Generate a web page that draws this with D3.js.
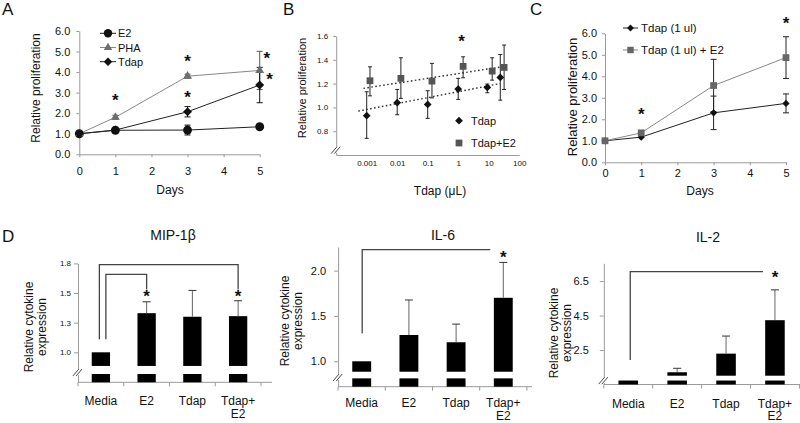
<!DOCTYPE html>
<html><head><meta charset="utf-8">
<script src="https://cdn.jsdelivr.net/npm/d3@7/dist/d3.min.js"></script>
<style>body{margin:0;background:#fff}svg{display:block}</style>
</head><body><svg id="c" width="800" height="423"></svg>
<script>
// ---------------- DATA ----------------
// Panel A
const daysA = [0, 1, 3, 5];
const e2A = [1.0, 1.17, 1.18, 1.34];
const e2AErr = [0, 0.04, 0.24, 0.1];
const phaA = [1.0, 1.8, 3.8, 4.08];
const phaAErr = [0, 0.1, 0.1, 0.93];
const tdapA = [1.0, 1.18, 2.07, 3.37];
const tdapAErr = [0, 0.04, 0.25, 0.86];
const ticksA = [0, 1, 2, 3, 4, 5, 6];
const dayTicks = [0, 1, 2, 3, 4, 5];
const starsA = [[1, 2.8], [3, 4.72], [3, 2.96], [5.2, 4.85], [5.27, 3.85]];
const seriesA = ["E2", "PHA", "Tdap"];

// Panel B
const doseTdap = [0.001, 0.01, 0.1, 1, 9, 24];
const tdapB = [0.93, 1.04, 1.025, 1.154, 1.168, 1.252];
const tdapBLo = [0.74, 0.938, 0.908, 1.067, 1.123, 1.061];
const tdapBHi = [1.131, 1.151, 1.14, 1.244, 1.196, 1.445];
const doseTdapE2 = [0.00128, 0.0132, 0.138, 1.45, 13, 32];
const tdapE2B = [1.224, 1.244, 1.221, 1.345, 1.305, 1.336];
const tdapE2BLo = [1.097, 1.076, 1.08, 1.249, 1.229, 1.151];
const tdapE2BHi = [1.341, 1.417, 1.37, 1.425, 1.417, 1.524];
const trendTdapB = [[0.00053, 0.969], [23.4, 1.20]];
const trendTdapE2B = [[0.00078, 1.16], [27, 1.341]];
const ticksBy = [0.8, 1.0, 1.2, 1.4, 1.6];
const ticksBx = [0.001, 0.01, 0.1, 1, 10, 100];
const starsB = [[1.3, 1.59]];
const seriesB = ["Tdap", "Tdap+E2"];

// Panel C
const tdapC = [1.0, 1.17, 2.3, 2.74];
const tdapCErr = [0, 0.03, 0.78, 0.44];
const tdapE2C = [1.0, 1.37, 3.57, 4.87];
const tdapE2CErr = [0, 0.03, 1.22, 0.97];
const starsC = [[1, 2.43], [5, 6.65]];
const seriesC = ["Tdap (1 ul)", "Tdap (1 ul) + E2"];

// Panel D
const cytoCats = ["Media", "E2", "Tdap", "Tdap+E2"];
const mipVals = [1.0, 1.33, 1.30, 1.305];
const mipErr = [0, 0.096, 0.222, 0.13];
const il6Vals = [1.0, 1.29, 1.21, 1.70];
const il6Err = [0, 0.386, 0.20, 0.39];
const il2Vals = [1.0, 1.21, 2.29, 4.23];
const il2Err = [0, 0.23, 1.02, 1.76];
const mipTicks = [1.0, 1.25, 1.5, 1.75];
const il6Ticks = [1.0, 1.5, 2.0];
const il2Ticks = [2.5, 4.5, 6.5];
const mipStars = [["E2", 1.51], ["Tdap+E2", 1.51]];
const il6Stars = [["Tdap+E2", 2.19]];
const il2Stars = [["Tdap+E2", 6.94]];
// [from, to, low end, top level, right drop end (or null)]
const mipBrackets = [["Media", "Tdap+E2", 1.11, 1.74, 1.53], ["Media", "E2", 1.11, 1.657, 1.53]];
const il6Brackets = [["Media", "Tdap+E2", 1.31, 2.23, null]];
const il2Brackets = [["Media", "Tdap+E2", 1.92, 7.05, null]];

// ---------------- DRAWING ----------------
const FONT = '"Liberation Sans", Arial, Helvetica, sans-serif';
const AXIS = "#9a9a9a";
const INK = "#111";
const GRAY = "#6e6e6e";
const svg = d3.select("#c").attr("font-family", FONT);

function styleAxis(ag, fs) {
  ag.attr("font-family", FONT).attr("font-size", fs);
  ag.select(".domain").attr("stroke", AXIS);
  ag.selectAll(".tick line").attr("stroke", AXIS);
  ag.selectAll(".tick text").attr("fill", INK);
}
function text(g, x, y, t, fs, anchor = "middle", extra = {}) {
  const el = g.append("text").attr("x", x).attr("y", y).attr("font-size", fs)
    .attr("text-anchor", anchor).attr("fill", INK).text(t);
  for (const k in extra) el.attr(k, extra[k]);
  return el;
}
function star(g, x, y, fs = 17) {
  g.append("text").attr("x", x).attr("y", y + 0.57 * fs).attr("text-anchor", "middle")
    .attr("font-size", fs).attr("font-weight", "bold").attr("fill", INK).text("*");
}
function yLabel(g, cx, cy, lines, fs, lh) {
  const t = g.append("text").attr("transform", `translate(${cx},${cy}) rotate(-90)`)
    .attr("text-anchor", "middle").attr("font-size", fs).attr("fill", INK);
  const n = lines.length;
  lines.forEach((l, i) => {
    t.append("tspan").attr("x", 0).attr("y", (i - (n - 1) / 2) * lh).attr("dy", "0.35em").text(l);
  });
}
function errBar(g, x, y1, y2, cap, color) {
  g.append("line").attr("x1", x).attr("x2", x).attr("y1", y1).attr("y2", y2).attr("stroke", color).attr("stroke-width", 1);
  [y1, y2].forEach(yy => g.append("line").attr("x1", x - cap / 2).attr("x2", x + cap / 2)
    .attr("y1", yy).attr("y2", yy).attr("stroke", color).attr("stroke-width", 1));
}
function marker(g, kind, x, y, size, color) {
  let path;
  if (kind === "circle") path = d3.symbol().type(d3.symbolCircle).size(size)();
  else if (kind === "triangle") path = d3.symbol().type(d3.symbolTriangle).size(size)();
  else path = d3.symbol().type(d3.symbolSquare).size(size)();
  const p = g.append("path").attr("d", path).attr("fill", color);
  p.attr("transform", `translate(${x},${y})` + (kind === "diamond" ? " rotate(45)" : ""));
}
function breakMark(g, x, y) {
  g.append("rect").attr("x", x - 2).attr("y", y - 3).attr("width", 4).attr("height", 6).attr("fill", "#fff");
  [-1.6, 1.6].forEach(o => g.append("line")
    .attr("x1", x - 3.5 + o).attr("y1", y + 4).attr("x2", x + 2.5 + o).attr("y2", y - 3)
    .attr("stroke", "#444").attr("stroke-width", 1));
}

// Panel letters
text(svg, 2, 15, "A", 17, "start");
text(svg, 283, 15, "B", 17, "start");
text(svg, 530, 15, "C", 17, "start");
text(svg, 2, 242, "D", 17, "start");

// ---------- Panel A ----------
(function () {
  const g = svg.append("g");
  const x = d3.scaleLinear().domain([0, 5]).range([79.3, 259.7]);
  const y = d3.scaleLinear().domain([0, 6]).range([154.3, 31]);
  const ya = g.append("g").attr("transform", `translate(${x(0)},0)`)
    .call(d3.axisLeft(y).tickValues(ticksA).tickFormat(d3.format(".1f")).tickSize(3).tickSizeOuter(0).tickPadding(6));
  styleAxis(ya, 11);
  const xa = g.append("g").attr("transform", `translate(0,${y(0)})`)
    .call(d3.axisBottom(x).tickValues(dayTicks).tickFormat(d3.format("d")).tickSize(3).tickSizeOuter(0).tickPadding(10));
  styleAxis(xa, 11);
  yLabel(g, 35.5, 88, ["Relative proliferation"], 12, 12);
  text(g, 170, 194, "Days", 12);

  const series = [
    { name: seriesA[0], v: e2A, e: e2AErr, kind: "circle", size: 62, color: INK, line: "#222" },
    { name: seriesA[1], v: phaA, e: phaAErr, kind: "triangle", size: 34, color: GRAY, line: "#888" },
    { name: seriesA[2], v: tdapA, e: tdapAErr, kind: "diamond", size: 40, color: INK, line: "#222" }
  ];
  const line = d3.line().x((d, i) => x(daysA[i])).y(d => y(d));
  series.forEach(s => g.append("path").attr("d", line(s.v)).attr("fill", "none").attr("stroke", s.line).attr("stroke-width", 1));
  series.forEach(s => s.v.forEach((v, i) => {
    if (s.e[i] > 0.05) errBar(g, x(daysA[i]), y(v - s.e[i]), y(v + s.e[i]), 6, s.kind === "triangle" ? "#555" : "#111");
  }));
  series.forEach(s => s.v.forEach((v, i) => marker(g, s.kind, x(daysA[i]), y(v), s.size, s.color)));
  starsA.forEach(([d, v]) => star(g, x(d), y(v)));
  // legend
  series.forEach((s, i) => {
    const ly = 33.3 + i * 14.2;
    g.append("line").attr("x1", 100).attr("x2", 116).attr("y1", ly).attr("y2", ly).attr("stroke", s.line);
    marker(g, s.kind, 108, ly, s.size * 0.9, s.color);
    text(g, 118, ly + 4, s.name, 11, "start");
  });
})();

// ---------- Panel B ----------
(function () {
  const g = svg.append("g");
  const x = d3.scaleLog().domain([0.0001, 100]).range([336.2, 519.2]);
  const y = d3.scaleLinear().domain([0.6, 1.6]).range([155, 36]);
  const ya = g.append("g").attr("transform", `translate(${x.range()[0]},0)`)
    .call(d3.axisLeft(y).tickValues(ticksBy).tickFormat(d3.format(".1f")).tickSize(3).tickSizeOuter(0).tickPadding(5));
  styleAxis(ya, 8);
  const xa = g.append("g").attr("transform", `translate(0,${y.range()[0]})`)
    .call(d3.axisBottom(x).tickValues(ticksBx).tickFormat(d => String(d)).tickSize(0).tickSizeOuter(0).tickPadding(5));
  styleAxis(xa, 8);
  breakMark(g, x.range()[0], y(0.645));
  yLabel(g, 302, 88, ["Relative proliferation"], 11, 11);
  text(g, 440, 195, "Tdap (\u03BCL)", 12);

  const line = d3.line().x(d => x(d[0])).y(d => y(d[1]));
  [trendTdapB, trendTdapE2B].forEach(t => g.append("path").attr("d", line(t)).attr("fill", "none")
    .attr("stroke", "#333").attr("stroke-width", 1.4).attr("stroke-dasharray", "1.6,2.4"));
  doseTdap.forEach((d, i) => errBar(g, x(d), y(tdapBLo[i]), y(tdapBHi[i]), 4, "#222"));
  doseTdapE2.forEach((d, i) => errBar(g, x(d), y(tdapE2BLo[i]), y(tdapE2BHi[i]), 4, "#222"));
  doseTdap.forEach((d, i) => marker(g, "diamond", x(d), y(tdapB[i]), 30, INK));
  doseTdapE2.forEach((d, i) => marker(g, "square", x(d), y(tdapE2B[i]), 46, "#555"));
  starsB.forEach(([d, v]) => star(g, x(d), y(v)));
  // legend
  marker(g, "diamond", 459, 120.7, 30, INK);
  text(g, 471, 124.5, seriesB[0], 11, "start");
  marker(g, "square", 459, 143, 46, "#555");
  text(g, 471, 147, seriesB[1], 11, "start");
})();

// ---------- Panel C ----------
(function () {
  const g = svg.append("g");
  const x = d3.scaleLinear().domain([0, 5]).range([605, 786]);
  const y = d3.scaleLinear().domain([0, 6]).range([162.3, 33.3]);
  const ya = g.append("g").attr("transform", `translate(${x(0)},0)`)
    .call(d3.axisLeft(y).tickValues(ticksA).tickFormat(d3.format(".1f")).tickSize(3).tickSizeOuter(0).tickPadding(5));
  styleAxis(ya, 11);
  const xa = g.append("g").attr("transform", `translate(0,${y(0)})`)
    .call(d3.axisBottom(x).tickValues(dayTicks).tickFormat(d3.format("d")).tickSize(3).tickSizeOuter(0).tickPadding(4));
  styleAxis(xa, 11);
  yLabel(g, 572, 97, ["Relative proliferation"], 13, 13);
  text(g, 700, 195, "Days", 12);

  const series = [
    { name: seriesC[0], v: tdapC, e: tdapCErr, kind: "diamond", size: 26, color: INK, line: "#222" },
    { name: seriesC[1], v: tdapE2C, e: tdapE2CErr, kind: "square", size: 46, color: "#666", line: "#888" }
  ];
  const line = d3.line().x((d, i) => x(daysA[i])).y(d => y(d));
  series.forEach(s => g.append("path").attr("d", line(s.v)).attr("fill", "none").attr("stroke", s.line).attr("stroke-width", 1));
  series.forEach(s => s.v.forEach((v, i) => {
    if (s.e[i] > 0.05) errBar(g, x(daysA[i]), y(v - s.e[i]), y(v + s.e[i]), 6, "#222");
  }));
  series.forEach(s => s.v.forEach((v, i) => marker(g, s.kind, x(daysA[i]), y(v), s.size, s.color)));
  starsC.forEach(([d, v]) => star(g, x(d), y(v)));
  series.forEach((s, i) => {
    const ly = 28 + i * 22;
    g.append("line").attr("x1", 623).attr("x2", 638).attr("y1", ly).attr("y2", ly).attr("stroke", s.line);
    marker(g, s.kind, 630.5, ly, s.size * 0.9, s.color);
    text(g, 641, ly + 4, s.name, 11.5, "start");
  });
})();

// ---------- Panel D ----------
function cytoPanel(cfg) {
  const g = svg.append("g");
  const x = d3.scaleBand().domain(cytoCats).range(cfg.xr).paddingInner(0.6).paddingOuter(0.3);
  const y = d3.scaleLinear().domain(cfg.yd).range(cfg.yr);
  const x0 = cfg.xr[0], yb = cfg.yr[0];
  const cx = c => x(c) + x.bandwidth() / 2;
  const ya = g.append("g").attr("transform", `translate(${x0},0)`)
    .call(d3.axisLeft(y).tickValues(cfg.ticks).tickFormat(d3.format(".1f")).tickSize(4).tickSizeOuter(0).tickPadding(cfg.pad));
  styleAxis(ya, cfg.tfs);
  g.append("line").attr("x1", x0).attr("x2", cfg.xEnd).attr("y1", yb).attr("y2", yb).attr("stroke", AXIS);
  d3.range(cytoCats.length + 1).forEach(i => {
    const tx = x0 + i * x.step();
    g.append("line").attr("x1", tx).attr("x2", tx).attr("y1", yb).attr("y2", yb + 4).attr("stroke", AXIS);
  });
  // bars with broken axis
  cfg.vals.forEach((v, i) => {
    const c = cytoCats[i];
    if (v > cfg.breakHigh) g.append("rect").attr("x", x(c)).attr("width", x.bandwidth())
      .attr("y", y(v)).attr("height", y(cfg.breakHigh) - y(v)).attr("fill", "#000");
    g.append("rect").attr("x", x(c)).attr("width", x.bandwidth())
      .attr("y", y(cfg.stubTop)).attr("height", yb - y(cfg.stubTop)).attr("fill", "#000");
    if (cfg.err[i] > 0) {
      const xx = cx(c);
      g.append("line").attr("x1", xx).attr("x2", xx).attr("y1", y(v)).attr("y2", y(v + cfg.err[i])).attr("stroke", "#666");
      g.append("line").attr("x1", xx - 4).attr("x2", xx + 4).attr("y1", y(v + cfg.err[i])).attr("y2", y(v + cfg.err[i])).attr("stroke", "#333");
    }
  });
  breakMark(g, x0, (y(cfg.breakHigh) + y(cfg.stubTop)) / 2 + 2);
  // brackets
  cfg.brackets.forEach((b, i) => {
    const xl = cx(b[0]) + cfg.bdx[i], xr = cx(b[1]) + cfg.bdxR[i];
    const pts = [[xl, y(b[2])], [xl, y(b[3])], [xr, y(b[3])]];
    if (b[4] !== null) pts.push([xr, y(b[4])]);
    g.append("path").attr("d", d3.line()(pts)).attr("fill", "none").attr("stroke", "#444").attr("stroke-width", 1.3);
  });
  cfg.stars.forEach(([c, v]) => star(g, cx(c), y(v)));
  // category labels
  cytoCats.forEach(c => {
    const parts = c === "Tdap+E2" ? ["Tdap+", "E2"] : [c];
    parts.forEach((p, j) => text(g, cx(c), cfg.labY + j * 12.8, p, 12));
  });
  text(g, cfg.title[1], cfg.title[2], cfg.title[0], 14);
  yLabel(g, cfg.ylab[0], cfg.ylab[1], ["Relative cytokine", "expression"], 12, 12.8);
}

cytoPanel({
  xr: [78, 261], xEnd: 272, yd: [0.747, 1.75], yr: [382.3, 263.4], ticks: mipTicks, tfs: 8, pad: 3,
  vals: mipVals, err: mipErr, breakHigh: 0.885, stubTop: 0.817,
  brackets: mipBrackets, bdx: [-1.5, 5], bdxR: [0, 0], stars: mipStars, labY: 405,
  title: ["MIP-1\u03B2", 173, 240], ylab: [35.5, 327]
});
cytoPanel({
  xr: [338.1, 526.9], xEnd: 532, yd: [0.72, 2.26], yr: [386.7, 247], ticks: il6Ticks, tfs: 11, pad: 8,
  vals: il6Vals, err: il6Err, breakHigh: 0.885, stubTop: 0.812,
  brackets: il6Brackets, bdx: [0.5], bdxR: [-13], stars: il6Stars, labY: 407,
  title: ["IL-6", 443, 240], ylab: [291, 321]
});
cytoPanel({
  xr: [603.8, 799.4], xEnd: 800, yd: [0.5, 7.53], yr: [384.5, 263.3], ticks: il2Ticks, tfs: 11, pad: 11,
  vals: il2Vals, err: il2Err, breakHigh: 1.01, stubTop: 0.73,
  brackets: il2Brackets, bdx: [2], bdxR: [-12], stars: il2Stars, labY: 407.5,
  title: ["IL-2", 708, 242], ylab: [560.5, 333]
});
</script>
</body></html>
